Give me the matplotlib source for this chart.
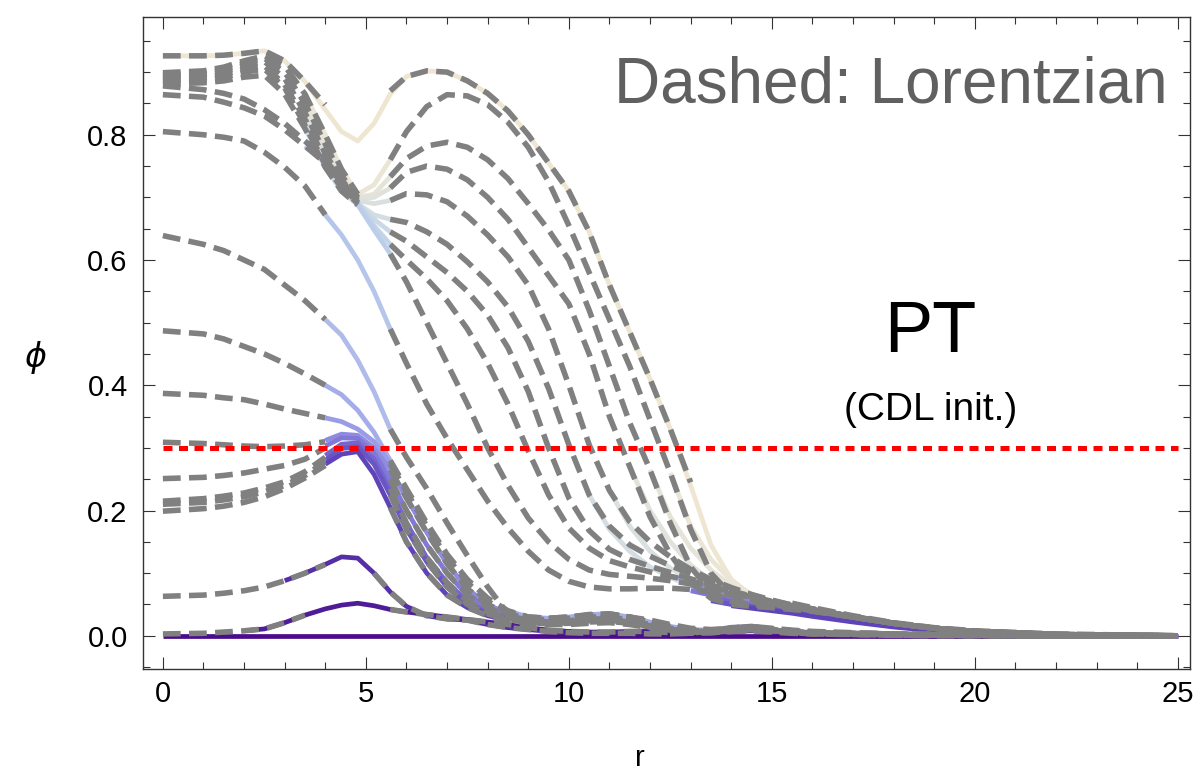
import numpy as np
import matplotlib.pyplot as plt
from matplotlib.ticker import MultipleLocator

nan = np.nan
plt.rcParams['font.family'] = ['Liberation Sans', 'DejaVu Sans']

# radial grid shared by every profile
r = [0, 1, 1.5, 2, 2.5, 3, 3.5, 4, 4.4, 4.8, 5.2, 5.6, 6, 6.5, 7, 7.5, 8, 8.5, 9, 9.5,
     10, 10.5, 11, 11.5, 12, 12.5, 13, 13.5, 14, 14.5, 15, 15.5, 16, 17, 18, 19, 20, 22, 25]

# Lorentzian profiles (gray dashed), top to bottom by central value; nan = no dash drawn
dash_a = [0.926, 0.926, 0.927, 0.930, 0.934, 0.918, 0.885, 0.848, nan, nan, nan, 0.870, 0.893, 0.902, 0.900, 0.886, 0.866, 0.838, 0.800, 0.755,
          0.710, 0.645, 0.560, 0.485, 0.410, 0.330, 0.245, nan, nan, nan, nan, 0.052, 0.045, 0.032, 0.021, 0.013, 0.008, 0.003, 0.0]
dash_b = [0.899, 0.902, 0.908, 0.918, 0.926, 0.910, 0.865, 0.800, 0.745, 0.705, nan, 0.760, 0.805, 0.845, 0.864, 0.862, 0.848, 0.820, 0.780, 0.725,
          0.655, 0.580, 0.505, 0.430, 0.345, 0.260, 0.170, 0.100, 0.065, 0.055, 0.050, 0.046, 0.041, 0.031, 0.020, 0.012, 0.007, 0.002, 0.0]
dash_c = [0.896, 0.898, 0.904, 0.914, 0.922, 0.900, 0.850, 0.785, 0.735, 0.700, nan, 0.733, 0.762, 0.782, 0.788, 0.780, 0.760, 0.730, 0.690, 0.648,
          0.600, 0.520, 0.430, 0.340, 0.265, 0.180, 0.110, 0.070, 0.055, 0.050, 0.048, 0.044, 0.040, 0.030, 0.020, 0.012, 0.007, 0.002, 0.0]
dash_d = [0.893, 0.895, 0.900, 0.910, 0.917, 0.890, 0.835, 0.770, 0.728, 0.698, nan, 0.715, 0.740, 0.750, 0.745, 0.728, 0.700, 0.665, 0.620, 0.575,
          0.530, 0.450, 0.350, 0.270, 0.190, 0.130, 0.085, 0.060, 0.050, 0.047, 0.045, 0.042, 0.039, 0.030, 0.020, 0.012, 0.007, 0.002, 0.0]
dash_e = [0.889, 0.891, 0.896, 0.905, 0.910, 0.880, 0.825, 0.760, 0.722, 0.695, nan, 0.695, 0.706, 0.704, 0.693, 0.670, 0.640, 0.605, 0.560, 0.490,
          0.400, 0.305, 0.232, 0.182, 0.150, 0.126, 0.106, 0.090, 0.077, 0.066, 0.057, 0.049, 0.043, 0.030, 0.020, 0.012, 0.007, 0.002, 0.0]
dash_f = [0.885, 0.887, 0.892, 0.900, 0.905, 0.875, 0.815, 0.752, 0.715, 0.690, nan, 0.665, 0.660, 0.645, 0.625, 0.597, 0.565, 0.525, 0.470, 0.395,
          0.305, 0.225, 0.175, 0.145, 0.127, 0.112, 0.099, 0.087, 0.076, 0.065, 0.056, 0.049, 0.043, 0.030, 0.020, 0.012, 0.007, 0.002, 0.0]
dash_g = [0.881, 0.883, 0.886, 0.892, 0.895, 0.865, 0.810, 0.748, 0.710, 0.688, nan, 0.645, 0.630, 0.605, 0.580, 0.550, 0.512, 0.460, 0.390, 0.300,
          0.220, 0.168, 0.138, 0.122, 0.111, 0.101, 0.091, 0.081, 0.072, 0.063, 0.055, 0.048, 0.042, 0.030, 0.020, 0.012, 0.007, 0.002, 0.0]
dash_h = [0.878, 0.872, 0.866, 0.857, 0.840, 0.818, 0.790, 0.760, 0.728, 0.692, nan, 0.625, 0.600, 0.570, 0.535, 0.490, 0.435, 0.370, 0.295, 0.225,
          0.172, 0.140, 0.120, 0.110, 0.102, 0.095, 0.088, 0.079, 0.070, 0.062, 0.054, 0.047, 0.042, 0.030, 0.020, 0.012, 0.007, 0.002, 0.0]
dash_i = [0.864, 0.860, 0.852, 0.843, 0.830, 0.808, 0.782, 0.755, 0.725, 0.688, nan, 0.610, 0.565, 0.500, 0.435, 0.370, 0.300, 0.240, 0.188, 0.150,
          0.122, 0.105, 0.098, 0.095, 0.092, 0.088, 0.083, 0.076, 0.069, 0.061, 0.054, 0.047, 0.041, 0.030, 0.020, 0.012, 0.007, 0.002, 0.0]
dash_j = [0.805, 0.800, 0.796, 0.790, 0.772, 0.748, 0.718, 0.672, nan, nan, nan, 0.490, 0.435, 0.370, 0.315, 0.265, 0.215, 0.172, 0.135, 0.105,
          0.087, 0.078, 0.075, 0.075, 0.076, 0.076, 0.074, 0.070, 0.065, 0.058, 0.052, 0.046, 0.040, 0.030, 0.020, 0.012, 0.007, 0.002, 0.0]
dash_k = [0.639, 0.625, 0.615, 0.600, 0.585, 0.560, 0.535, 0.505, nan, nan, nan, 0.330, 0.285, 0.235, 0.180, 0.128, 0.078, 0.035, 0.022, 0.020,
          0.022, 0.026, 0.030, 0.030, 0.025, 0.018, 0.012, 0.010, 0.012, 0.015, 0.012, 0.009, 0.007, 0.005, 0.003, 0.002, 0.001, 0.0, 0.0]
dash_l = [0.487, 0.482, 0.474, 0.462, 0.450, 0.435, 0.418, 0.400, nan, nan, nan, 0.280, 0.235, 0.180, 0.130, 0.090, 0.060, 0.040, 0.030, 0.028,
          0.030, 0.034, 0.035, 0.030, 0.022, 0.015, 0.010, 0.009, 0.011, 0.013, 0.011, 0.008, 0.006, 0.004, 0.003, 0.002, 0.001, 0.0, 0.0]
dash_m = [0.387, 0.384, 0.380, 0.377, 0.370, 0.362, 0.355, 0.348, nan, nan, nan, 0.275, 0.230, 0.175, 0.125, 0.085, 0.055, 0.038, 0.030, 0.028,
          0.030, 0.033, 0.035, 0.030, 0.022, 0.015, 0.010, 0.009, 0.011, 0.013, 0.011, 0.008, 0.006, 0.004, 0.003, 0.002, 0.001, 0.0, 0.0]
dash_n = [0.309, 0.307, 0.305, 0.303, 0.302, 0.303, 0.305, 0.310, nan, nan, nan, 0.265, 0.220, 0.165, 0.115, 0.075, 0.050, 0.035, 0.028, 0.025,
          0.028, 0.030, 0.030, 0.025, 0.018, 0.012, 0.008, 0.008, 0.010, 0.012, 0.010, 0.007, 0.005, 0.004, 0.003, 0.002, 0.001, 0.0, 0.0]
dash_o = [0.251, 0.253, 0.256, 0.260, 0.266, 0.272, 0.282, 0.300, nan, nan, nan, 0.250, 0.200, 0.145, 0.100, 0.065, 0.045, 0.032, 0.025, 0.022,
          0.024, 0.027, 0.027, 0.022, 0.016, 0.010, 0.007, 0.007, 0.009, 0.011, 0.009, 0.006, 0.005, 0.004, 0.003, 0.002, 0.001, 0.0, 0.0]
dash_p = [0.215, 0.219, 0.223, 0.228, 0.236, 0.246, 0.262, 0.285, nan, nan, nan, 0.235, 0.180, 0.125, 0.085, 0.055, 0.038, 0.028, 0.022, 0.020,
          0.021, 0.024, 0.025, 0.021, 0.015, 0.010, 0.006, 0.006, 0.008, 0.010, 0.008, 0.006, 0.004, 0.003, 0.002, 0.001, 0.001, 0.0, 0.0]
dash_q = [0.210, 0.213, 0.217, 0.222, 0.230, 0.240, 0.256, 0.278, nan, nan, nan, 0.225, 0.170, 0.118, 0.078, 0.050, 0.035, 0.026, 0.021, 0.019,
          0.020, 0.022, 0.023, 0.020, 0.014, 0.009, 0.006, 0.006, 0.008, 0.010, 0.008, 0.006, 0.004, 0.003, 0.002, 0.001, 0.001, 0.0, 0.0]
dash_r = [0.199, 0.203, 0.207, 0.213, 0.222, 0.235, 0.252, 0.272, nan, nan, nan, 0.205, 0.150, 0.100, 0.065, 0.045, 0.032, 0.025, 0.020, 0.018,
          0.018, 0.020, 0.021, 0.018, 0.013, 0.008, 0.005, 0.005, 0.007, 0.009, 0.007, 0.005, 0.004, 0.003, 0.002, 0.001, 0.001, 0.0, 0.0]
dash_s = [0.063, 0.065, 0.068, 0.072, 0.078, 0.088, 0.100, 0.114, nan, nan, 0.100, 0.070, 0.047, 0.032, 0.027, 0.025, 0.018, 0.013, 0.010, 0.007,
          0.005, 0.004, 0.004, 0.004, 0.003, 0.003, 0.004, 0.008, 0.013, 0.015, 0.010, 0.005, 0.003, 0.002, 0.001, 0.001, 0.0, 0.0, 0.0]
dash_t = [0.003, 0.004, 0.006, 0.008, 0.011, 0.021, 0.033, nan, nan, nan, nan, 0.042, 0.038, 0.034, 0.030, 0.026, 0.022, 0.018, 0.013, 0.009,
          0.007, 0.006, 0.006, 0.007, 0.007, 0.005, 0.004, 0.005, 0.007, 0.008, 0.006, 0.004, 0.003, 0.002, 0.001, 0.0, 0.0, 0.0, 0.0]

# Euclidean profiles (solid, coloured), only where they show in the picture
solid_a = [0.926, 0.926, 0.927, 0.930, 0.934, 0.918, 0.885, 0.840, 0.805, 0.790, 0.818, 0.865, 0.893, 0.902, 0.900, 0.886, 0.866, 0.838, 0.800, 0.755,
           0.710, 0.645, 0.560, 0.485, 0.410, 0.330, 0.240, 0.145, 0.090, 0.064, 0.050, 0.044, 0.038, 0.028, 0.018, 0.011, 0.006, 0.002, 0.0]
solid_b = [nan] * 6 + [0.865, 0.800, 0.745, 0.705, 0.720, 0.760] + [nan] * 13 + \
          [0.260, 0.175, 0.122, 0.088, 0.066, 0.053, 0.046, 0.041, 0.030, 0.020, 0.012, 0.007, 0.002, 0.0]
solid_c = [nan] * 6 + [0.850, 0.785, 0.735, 0.700, 0.705, 0.733] + [nan] * 12 + \
          [0.265, 0.190, 0.140, 0.105, 0.080, 0.063, 0.052, 0.045, 0.040, 0.030, 0.020, 0.012, 0.007, 0.002, 0.0]
solid_d = [nan] * 6 + [0.835, 0.770, 0.728, 0.698, 0.700, 0.715] + [nan] * 11 + \
          [0.270, 0.200, 0.150, 0.113, 0.088, 0.070, 0.058, 0.050, 0.044, 0.040, 0.030, 0.020, 0.012, 0.007, 0.002, 0.0]
solid_e = [nan] * 6 + [0.825, 0.760, 0.722, 0.695, 0.690, 0.695] + [nan] * 10 + \
          [0.232, 0.175, 0.135, 0.108, 0.090, 0.075, 0.063, 0.055, 0.048, 0.043, 0.039, 0.030, 0.020, 0.012, 0.007, 0.002, 0.0]
solid_f = [nan] * 6 + [0.815, 0.752, 0.715, 0.690, 0.672, 0.665] + [nan] * 9 + \
          [0.225, 0.170, 0.135, 0.110, 0.093, 0.080, 0.069, 0.060, 0.053, 0.047, 0.042, 0.038, 0.029, 0.020, 0.012, 0.007, 0.002, 0.0]
solid_g = [nan] * 6 + [0.810, 0.748, 0.710, 0.688, 0.665, 0.645] + [nan] * 27
solid_h = [nan] * 6 + [0.790, 0.760, 0.728, 0.692, 0.655, 0.625] + [nan] * 27
solid_i = [nan] * 6 + [0.782, 0.755, 0.725, 0.688, 0.648, 0.610] + [nan] * 27
solid_j = [nan] * 7 + [0.672, 0.640, 0.600, 0.550, 0.490] + [nan] * 27
solid_k = [nan] * 7 + [0.505, 0.480, 0.440, 0.390, 0.330] + [nan] * 27
solid_l = [nan] * 7 + [0.400, 0.385, 0.360, 0.325, 0.280] + [nan] * 5 + \
          [0.040, 0.030, 0.028, 0.030, 0.034, 0.035, 0.030, 0.022, 0.015, 0.010, 0.009] + [nan] * 11
solid_m = [nan] * 7 + [0.348, 0.342, 0.330, 0.310, 0.275] + [nan] * 13 + \
          [0.095, 0.088, 0.077, 0.066, 0.056, 0.048, 0.042, 0.037, 0.027, 0.017, 0.010, 0.006, 0.001, 0.0]
solid_n = [nan] * 7 + [0.312, 0.322, 0.320, 0.300, 0.265, 0.220, 0.165, 0.115, 0.075, 0.050, 0.035] + [nan] * 8 + \
          [0.080, 0.071, 0.061, 0.053, 0.046, 0.041, 0.036, 0.026, 0.017, 0.010, 0.006, 0.001, 0.0]
solid_o = [nan] * 7 + [0.303, 0.316, 0.315, 0.292, 0.250, 0.200, 0.145, 0.100, 0.065, 0.045, 0.032] + [nan] * 8 + \
          [0.072, 0.065, 0.057, 0.050, 0.045, 0.040, 0.035, 0.025, 0.016, 0.010, 0.006, 0.001, 0.0]
solid_p = [nan] * 7 + [0.288, 0.306, 0.308, 0.282, 0.235, 0.180, 0.125, 0.085, 0.055, 0.038, 0.028] + [nan] * 9 + \
          [0.062, 0.054, 0.048, 0.044, 0.039, 0.034, 0.024, 0.016, 0.009, 0.005, 0.001, 0.0]
solid_q = [nan] * 7 + [0.280, 0.299, 0.302, 0.274, 0.225, 0.170, 0.118, 0.078, 0.050, 0.035, 0.026] + [nan] * 9 + \
          [0.056, 0.050, 0.046, 0.042, 0.038, 0.033, 0.023, 0.015, 0.009, 0.005, 0.001, 0.0]
solid_r = [nan] * 7 + [0.274, 0.290, 0.294, 0.258, 0.205, 0.150, 0.100, 0.065, 0.045, 0.032, 0.025] + [nan] * 10 + \
          [0.048, 0.044, 0.040, 0.036, 0.031, 0.022, 0.014, 0.008, 0.005, 0.001, 0.0]
solid_s = [nan] * 5 + [0.088, 0.100, 0.114, 0.126, 0.124, 0.100, 0.070, 0.047, 0.032, 0.027, 0.025, 0.018, 0.013, 0.010, 0.007,
                       0.005, 0.004, 0.004, 0.004, 0.003, 0.003, 0.004, 0.008, 0.013, 0.015, 0.010, 0.005, 0.003, 0.002, 0.001, 0.001, 0.0, 0.0, 0.0]
solid_t = [nan] * 3 + [0.008, 0.011, 0.021, 0.033, 0.043, 0.049, 0.052, 0.048, 0.042, 0.038, 0.034, 0.030, 0.026, 0.022, 0.018, 0.013, 0.009,
                       0.007, 0.006, 0.006, 0.007, 0.007, 0.005, 0.004, 0.005, 0.007, 0.008, 0.006, 0.004, 0.003, 0.002, 0.001, 0.0, 0.0, 0.0, 0.0]
solid_u = [0.0] * len(r)

threshold = 0.3
threshold_span = [0, 25]

dashed = [dash_a, dash_b, dash_c, dash_d, dash_e, dash_f, dash_g, dash_h, dash_i, dash_j,
          dash_k, dash_l, dash_m, dash_n, dash_o, dash_p, dash_q, dash_r, dash_s, dash_t]
solids = [solid_a, solid_b, solid_c, solid_d, solid_e, solid_f, solid_g, solid_h, solid_i, solid_j,
          solid_k, solid_l, solid_m, solid_n, solid_o, solid_p, solid_q, solid_r, solid_s, solid_t, solid_u]
colors = ['#efe6d2', '#ebe5d5', '#e6e4d9', '#e0e2dc', '#dae0e0', '#d3dde3', '#cbd9e6', '#c4d4e8', '#bccde9', '#b6c6ea',
          '#afbcea', '#a5ade8', '#9b9ce6', '#8e8be0', '#8178d8', '#7566ce', '#6a55c4', '#5f43b8', '#552fa6', '#4e1c96', '#4a0c8b']

fig = plt.figure(figsize=(11.94, 7.73), dpi=100)
ax = fig.add_axes([143 / 1194, 1 - 669 / 773, 1047 / 1194, 652 / 773])

# solid first, from late (beige) to early (dark purple)
for prof, col in zip(solids, colors):
    ax.plot(r, prof, color=col, lw=3.4, solid_capstyle='butt', zorder=2)
for prof in dashed:
    ax.plot(r, prof, color='#808080', lw=4.0, dashes=(3.2, 1.5), dash_capstyle='butt', zorder=3)
ax.plot(threshold_span, [threshold, threshold], color='#ff0000', lw=3.6, dashes=(1.8, 1.3), zorder=4)

ax.set_xlim(-0.49, 25.3)
ax.set_ylim(-0.053, 0.988)
ax.xaxis.set_major_locator(MultipleLocator(5))
ax.xaxis.set_minor_locator(MultipleLocator(1))
ax.yaxis.set_major_locator(MultipleLocator(0.2))
ax.yaxis.set_minor_locator(MultipleLocator(0.05))
ax.yaxis.set_major_formatter(plt.FuncFormatter(lambda v, p: f'{v:.1f}'))
ax.tick_params(which='both', direction='in', top=True, right=True, width=0.8, color='#333333', labelsize=21)
ax.tick_params(which='major', length=8.5)
ax.tick_params(which='minor', length=5)
ax.tick_params(axis='y', pad=11)
ax.tick_params(axis='x', pad=8)
for s in ax.spines.values():
    s.set_color('#333333')
    s.set_linewidth(1.0)

ax.set_xlabel('r', fontsize=21, va='center')
ax.xaxis.set_label_coords(0.475, -0.136)
ax.set_ylabel(r'$\phi$', fontsize=24, rotation=0, va='center')
ax.yaxis.set_label_coords(-0.103, 0.477)

ax.text(24.75, 0.851, 'Dashed: Lorentzian', ha='right', va='baseline', fontsize=46, color='#606060')
ax.text(18.9, 0.453, 'PT', ha='center', va='baseline', fontsize=52, color='black')
ax.text(18.9, 0.345, '(CDL init.)', ha='center', va='baseline', fontsize=28, color='black')

fig.savefig('out.png', dpi=100)
